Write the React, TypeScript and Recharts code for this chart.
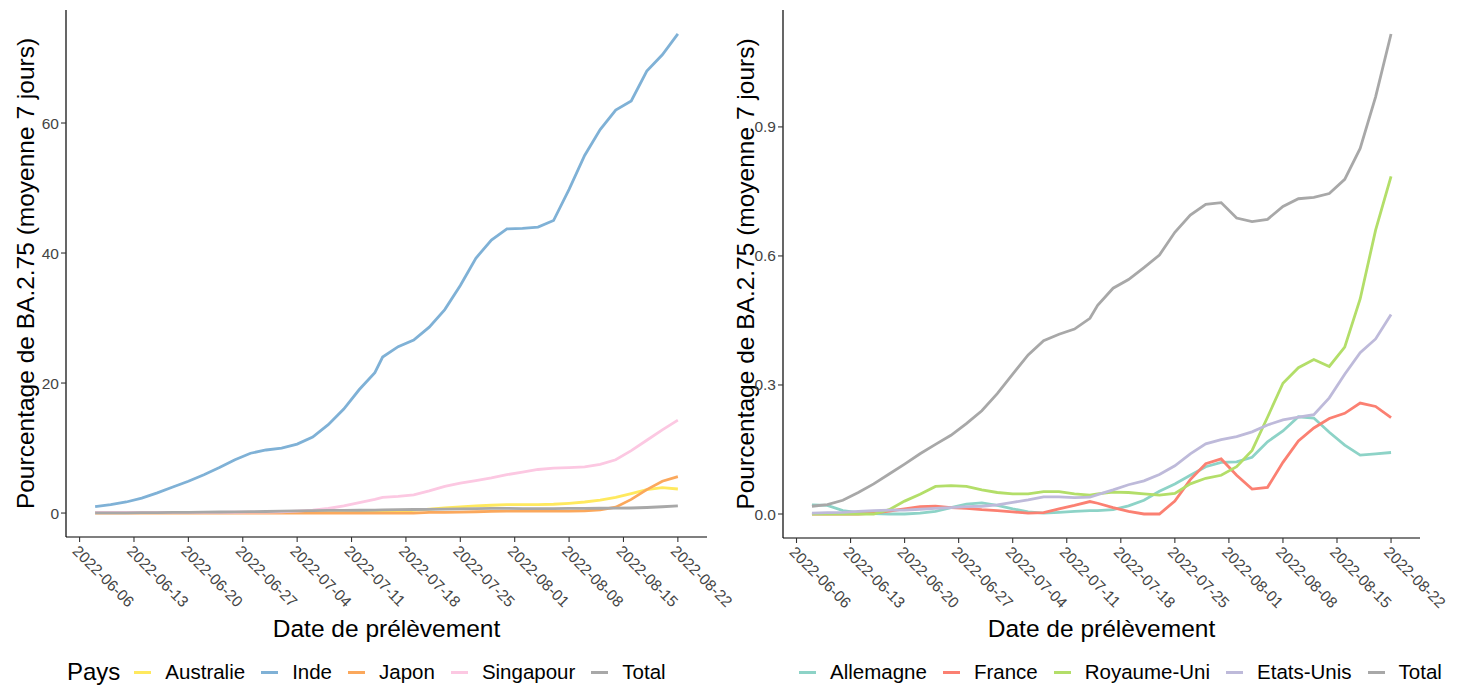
import React from 'react';
import { LineChart, Line, XAxis, YAxis, Label } from 'recharts';

const FONT = '"Liberation Sans", Arial, sans-serif';

const dates = [
  '2022-06-08', '2022-06-10', '2022-06-12', '2022-06-14', '2022-06-16', '2022-06-18', '2022-06-20',
  '2022-06-22', '2022-06-24', '2022-06-26', '2022-06-28', '2022-06-30', '2022-07-02', '2022-07-04',
  '2022-07-06', '2022-07-08', '2022-07-10', '2022-07-12', '2022-07-14', '2022-07-15', '2022-07-17',
  '2022-07-19', '2022-07-21', '2022-07-23', '2022-07-25', '2022-07-27', '2022-07-29', '2022-07-31',
  '2022-08-02', '2022-08-04', '2022-08-06', '2022-08-08', '2022-08-10', '2022-08-12', '2022-08-14',
  '2022-08-16', '2022-08-18', '2022-08-20', '2022-08-22',
];

const australie = [0.05, 0.05, 0.05, 0.05, 0.05, 0.05, 0.05, 0.05, 0.05, 0.05, 0.05, 0.05, 0.05, 0.05, 0.05, 0.05, 0.08, 0.1, 0.12, 0.15, 0.2, 0.4, 0.6, 0.8, 0.95, 1.1, 1.2, 1.3, 1.3, 1.3, 1.35, 1.5, 1.7, 2.0, 2.4, 3.0, 3.6, 3.9, 3.7];
const inde = [1.0, 1.3, 1.7, 2.3, 3.1, 4.0, 4.9, 5.9, 7.0, 8.2, 9.2, 9.7, 10.0, 10.6, 11.7, 13.6, 16.0, 19.0, 21.6, 24.0, 25.6, 26.6, 28.6, 31.3, 35.0, 39.2, 42.0, 43.7, 43.8, 44.0, 45.0, 49.8, 55.0, 59.0, 62.0, 63.4, 68.0, 70.5, 73.7];
const japon = [0, 0, 0, 0, 0, 0, 0, 0, 0, 0, 0, 0, 0, 0, 0, 0, 0, 0, 0, 0, 0, 0, 0.1, 0.1, 0.15, 0.2, 0.25, 0.3, 0.3, 0.3, 0.3, 0.3, 0.35, 0.5, 0.9, 2.1, 3.6, 4.9, 5.6];
const singapour = [0.1, 0.1, 0.1, 0.1, 0.1, 0.1, 0.1, 0.1, 0.1, 0.12, 0.15, 0.15, 0.2, 0.3, 0.45, 0.7, 1.1, 1.6, 2.1, 2.4, 2.55, 2.8, 3.4, 4.1, 4.6, 5.0, 5.4, 5.9, 6.3, 6.7, 6.9, 7.0, 7.1, 7.5, 8.2, 9.6, 11.2, 12.8, 14.3];
const total = [0.018, 0.022, 0.032, 0.05, 0.07, 0.093, 0.116, 0.14, 0.162, 0.183, 0.21, 0.24, 0.28, 0.325, 0.37, 0.403, 0.418, 0.43, 0.455, 0.485, 0.525, 0.545, 0.573, 0.602, 0.655, 0.695, 0.72, 0.724, 0.688, 0.68, 0.685, 0.715, 0.733, 0.736, 0.745, 0.778, 0.85, 0.97, 1.116];

const allemagne = [0.021, 0.02, 0.008, 0.003, 0.001, 0, 0, 0.002, 0.006, 0.015, 0.023, 0.026, 0.02, 0.012, 0.005, 0.002, 0.004, 0.006, 0.008, 0.008, 0.01, 0.019, 0.032, 0.053, 0.07, 0.09, 0.11, 0.12, 0.121, 0.132, 0.168, 0.193, 0.226, 0.223, 0.19, 0.16, 0.137, 0.14, 0.143];
const france = [0, 0, 0, 0, 0.002, 0.007, 0.012, 0.017, 0.018, 0.015, 0.013, 0.01, 0.008, 0.005, 0.002, 0.003, 0.012, 0.02, 0.029, 0.025, 0.015, 0.006, 0, 0, 0.03, 0.08, 0.117, 0.128, 0.09, 0.058, 0.062, 0.12, 0.17, 0.2, 0.222, 0.234, 0.258, 0.25, 0.224];
const royaumeUni = [0, 0, 0, 0, 0, 0.01, 0.03, 0.046, 0.064, 0.066, 0.064, 0.056, 0.05, 0.047, 0.047, 0.052, 0.052, 0.047, 0.044, 0.047, 0.051, 0.05, 0.047, 0.044, 0.048, 0.07, 0.083, 0.09, 0.11, 0.148, 0.225, 0.304, 0.34, 0.359, 0.343, 0.388, 0.5, 0.66, 0.785];
const etatsUnis = [0.002, 0.003, 0.004, 0.006, 0.008, 0.009, 0.009, 0.011, 0.013, 0.015, 0.017, 0.018, 0.021, 0.027, 0.033, 0.04, 0.04, 0.038, 0.039, 0.045, 0.056, 0.068, 0.077, 0.092, 0.112, 0.14, 0.163, 0.173, 0.18, 0.191, 0.207, 0.219, 0.225, 0.231, 0.27, 0.325, 0.375, 0.407, 0.464];

const xTickLabels = [
  '2022-06-06', '2022-06-13', '2022-06-20', '2022-06-27', '2022-07-04', '2022-07-11',
  '2022-07-18', '2022-07-25', '2022-08-01', '2022-08-08', '2022-08-15', '2022-08-22',
];
const leftYTicks = [0, 20, 40, 60];
const rightYTicks = [0, 0.3, 0.6, 0.9];

const leftSeries = [
  { name: 'Australie', values: australie, color: '#FFE95E' },
  { name: 'Inde', values: inde, color: '#7FB1D6' },
  { name: 'Japon', values: japon, color: '#FBA85C' },
  { name: 'Singapour', values: singapour, color: '#FCC8E2' },
  { name: 'Total', values: total, color: '#A8A8A8' },
];
const rightSeries = [
  { name: 'Allemagne', values: allemagne, color: '#8DD3C7' },
  { name: 'France', values: france, color: '#FB8072' },
  { name: 'Royaume-Uni', values: royaumeUni, color: '#B3DE69' },
  { name: 'Etats-Unis', values: etatsUnis, color: '#BEBADA' },
  { name: 'Total', values: total, color: '#A8A8A8' },
];

const yTitle = 'Pourcentage de BA.2.75 (moyenne 7 jours)';
const xTitle = 'Date de prélèvement';

const toT = (d: string) => Date.parse(d + 'T00:00:00Z');
const fmtDate = (t: number) => new Date(t).toISOString().slice(0, 10);

function buildRows(series: { name: string; values: number[] }[]) {
  return dates.map((d, i) => {
    const row: Record<string, number> = { t: toT(d) };
    series.forEach((s) => {
      row[s.name] = s.values[i];
    });
    return row;
  });
}

function expand(min: number, max: number): [number, number] {
  const pad = (max - min) * 0.05;
  return [min - pad, max + pad];
}

const times = dates.map(toT);
const xDomain = expand(Math.min(...times), Math.max(...times));
const xTicks = xTickLabels.map(toT);

function seriesDomain(series: { values: number[] }[]): [number, number] {
  const all = series.flatMap((s) => s.values);
  return expand(Math.min(...all), Math.max(...all));
}

const XTick = (props: any) => {
  const { x, y, payload } = props;
  const px = x - 8;
  const py = y + 8;
  return (
    <text
      x={px}
      y={py}
      transform={`rotate(45 ${px} ${py})`}
      textAnchor="start"
      fill="#444444"
      fontSize={15.5}
      fontFamily={FONT}
    >
      {fmtDate(payload.value)}
    </text>
  );
};

type Panel = {
  width: number;
  series: { name: string; values: number[]; color: string }[];
  yTicks: number[];
  yFmt: (v: number) => string;
  yAxisWidth: number;
  marginRight: number;
  xAxisHeight: number;
  yTitleX: number;
};

function PanelChart({ width, series, yTicks, yFmt, yAxisWidth, marginRight, xAxisHeight, yTitleX }: Panel) {
  const W = width;
  const H = 686;
  const top = 10;
  const rows = buildRows(series);
  const yDomain = seriesDomain(series);
  const plotLeft = yAxisWidth;
  const plotRight = W - marginRight;
  const plotBottom = H - xAxisHeight;
  const cx = (plotLeft + plotRight) / 2;
  const cy = (top + plotBottom) / 2;
  return (
    <LineChart width={W} height={H} data={rows} margin={{ top, right: marginRight, bottom: 0, left: 0 }}>
      <XAxis
        dataKey="t"
        type="number"
        domain={xDomain}
        allowDataOverflow
        ticks={xTicks}
        interval={0}
        height={xAxisHeight}
        tickSize={5}
        tickLine={{ stroke: '#333333', strokeWidth: 1.1 }}
        axisLine={{ stroke: '#000000', strokeWidth: 1.2 }}
        tick={XTick}
      >
        <Label
          content={() => (
            <text x={cx} y={637} textAnchor="middle" fontSize={24.5} fontFamily={FONT} fill="#000">
              {xTitle}
            </text>
          )}
        />
      </XAxis>
      <YAxis
        type="number"
        domain={yDomain}
        allowDataOverflow
        ticks={yTicks}
        interval={0}
        width={yAxisWidth}
        tickSize={5}
        tickFormatter={yFmt}
        tickLine={{ stroke: '#333333', strokeWidth: 1.1 }}
        axisLine={{ stroke: '#000000', strokeWidth: 1.2 }}
        tick={{ fill: '#444444', fontSize: 15.5, fontFamily: FONT }}
      >
        <Label
          content={() => (
            <text
              x={yTitleX}
              y={cy}
              transform={`rotate(-90 ${yTitleX} ${cy})`}
              textAnchor="middle"
              dominantBaseline="central"
              fontSize={24.5}
              fontFamily={FONT}
              fill="#000"
            >
              {yTitle}
            </text>
          )}
        />
      </YAxis>
      {series.map((s) => (
        <Line
          key={s.name}
          dataKey={s.name}
          type="linear"
          stroke={s.color}
          strokeWidth={2.8}
          dot={false}
          activeDot={false}
          isAnimationActive={false}
        />
      ))}
    </LineChart>
  );
}

function LegendRow({
  title,
  series,
  left,
}: {
  title?: string;
  series: { name: string; color: string }[];
  left: number;
}) {
  return (
    <div
      style={{
        position: 'absolute',
        left,
        top: 660,
        height: 24,
        display: 'flex',
        alignItems: 'center',
        fontFamily: FONT,
        whiteSpace: 'nowrap',
      }}
    >
      {title ? (
        <span style={{ fontSize: 24, lineHeight: '24px', marginRight: 14, color: '#000' }}>{title}</span>
      ) : null}
      {series.map((s) => (
        <span key={s.name} style={{ display: 'flex', alignItems: 'center', marginRight: 16 }}>
          <span style={{ display: 'inline-block', width: 17, height: 3, background: s.color, marginRight: 14 }} />
          <span style={{ fontSize: 20.5, lineHeight: '24px', color: '#000' }}>{s.name}</span>
        </span>
      ))}
    </div>
  );
}

export default function App() {
  return (
    <div style={{ position: 'relative', width: 1470, height: 686, background: '#fff', overflow: 'hidden' }}>
      <style>{'body{margin:0;background:#fff}'}</style>
      <div style={{ position: 'absolute', left: 0, top: 0 }}>
        <PanelChart
          width={745}
          series={leftSeries}
          yTicks={leftYTicks}
          yFmt={(v) => String(v)}
          yAxisWidth={66}
          marginRight={38}
          xAxisHeight={149}
          yTitleX={25}
        />
      </div>
      <div style={{ position: 'absolute', left: 720, top: 0 }}>
        <PanelChart
          width={750}
          series={rightSeries}
          yTicks={rightYTicks}
          yFmt={(v) => v.toFixed(1)}
          yAxisWidth={63}
          marginRight={50}
          xAxisHeight={148}
          yTitleX={25}
        />
      </div>
      <LegendRow title="Pays" series={leftSeries} left={67} />
      <LegendRow series={rightSeries} left={799} />
    </div>
  );
}
